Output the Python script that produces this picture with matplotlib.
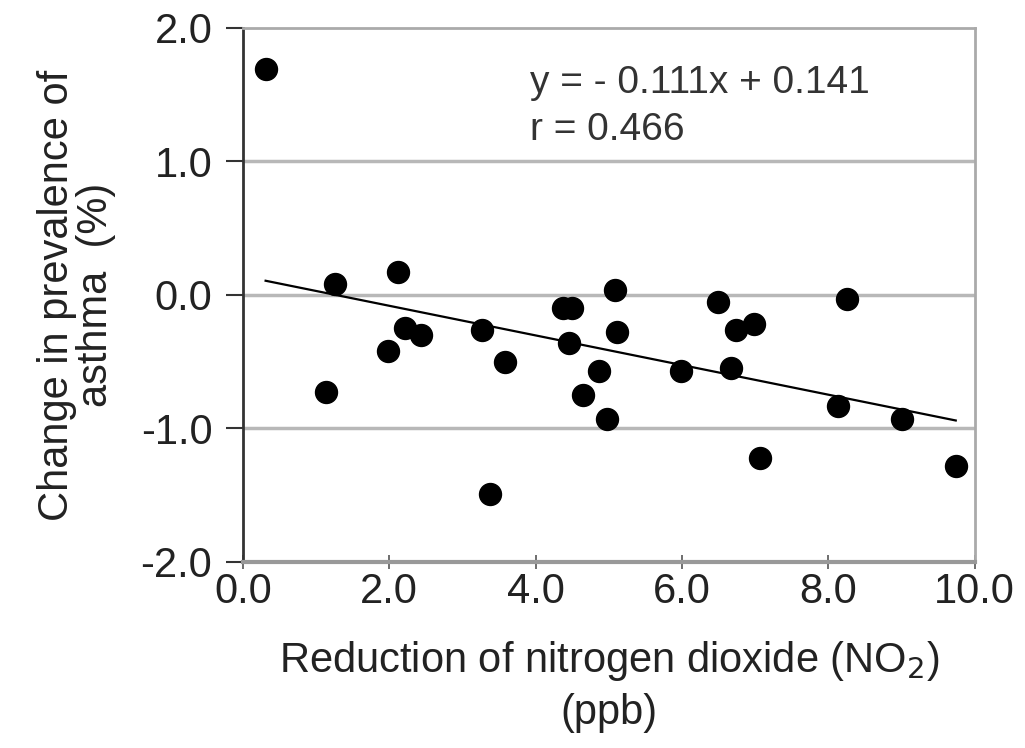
import numpy as np
import matplotlib
matplotlib.use("Agg")
import matplotlib.pyplot as plt

plt.rcParams["font.family"] = ["Liberation Sans", "DejaVu Sans"]

# =========================
# data
# =========================
no2_reduction = [0.31, 1.26, 2.12, 1.13, 1.98, 2.22, 2.44, 3.27, 3.58, 3.37,
                 4.38, 4.49, 4.46, 5.08, 5.11, 4.86, 4.64, 4.97, 6.49, 6.74,
                 6.99, 5.99, 6.67, 8.25, 8.13, 9.00, 7.06, 9.74]
asthma_change = [1.69, 0.08, 0.17, -0.73, -0.42, -0.25, -0.30, -0.26, -0.50, -1.49,
                 -0.10, -0.10, -0.36, 0.04, -0.28, -0.57, -0.75, -0.93, -0.05, -0.26,
                 -0.22, -0.57, -0.55, -0.03, -0.83, -0.93, -1.22, -1.28]
slope = -0.111
intercept = 0.141
r_value = 0.466

x_ticks = [0, 2, 4, 6, 8, 10]
y_ticks = [-2, -1, 0, 1, 2]

fig = plt.figure(figsize=(10.25, 7.48), dpi=100)
ax = fig.add_axes([0.237, 0.2487, 0.714, 0.7139])

# gridlines
for yv in [-1, 0, 1]:
    ax.axhline(yv, color="#b8b8b8", lw=2.5, zorder=0)

ax.scatter(no2_reduction, asthma_change, s=250, color="black", zorder=3)

# trend line
xs = np.array([min(no2_reduction), max(no2_reduction)])
ax.plot(xs, slope * xs + intercept, color="black", lw=1.6, zorder=2)

ax.text(3.92, 1.41, f"y = - {abs(slope):.3f}x + {intercept:.3f}\nr = {r_value:.3f}",
        fontsize=28, color="#333333", va="center", ha="left", linespacing=1.4)

ax.set_xlim(0, 10)
ax.set_ylim(-2, 2)
ax.set_xticks(x_ticks)
ax.set_yticks(y_ticks)
ax.set_xticklabels([f"{v:.1f}" for v in x_ticks], fontsize=30)
ax.set_yticklabels([f"{v:.1f}" for v in y_ticks], fontsize=30)

ax.spines["left"].set_color("#333333")
ax.spines["left"].set_linewidth(2)
ax.spines["bottom"].set_color("#999999")
ax.spines["bottom"].set_linewidth(3)
ax.spines["top"].set_color("#aaaaaa")
ax.spines["top"].set_linewidth(2)
ax.spines["right"].set_color("#aaaaaa")
ax.spines["right"].set_linewidth(2)

ax.tick_params(axis="y", direction="out", length=12, width=1.5, pad=10, colors="#333333")
ax.tick_params(axis="x", direction="inout", length=10, width=1.2, pad=2, colors="#555555")
for lbl in ax.get_xticklabels() + ax.get_yticklabels():
    lbl.set_color("#222222")

ax.set_xlabel("Reduction of nitrogen dioxide (NO$_2$)\n(ppb)", fontsize=30,
              color="#222222", labelpad=20, linespacing=1.3)
ax.set_ylabel("Change in prevalence of\nasthma  (%)", fontsize=30,
              color="#222222", labelpad=18, linespacing=0.95)

plt.savefig("out.png", dpi=100)
